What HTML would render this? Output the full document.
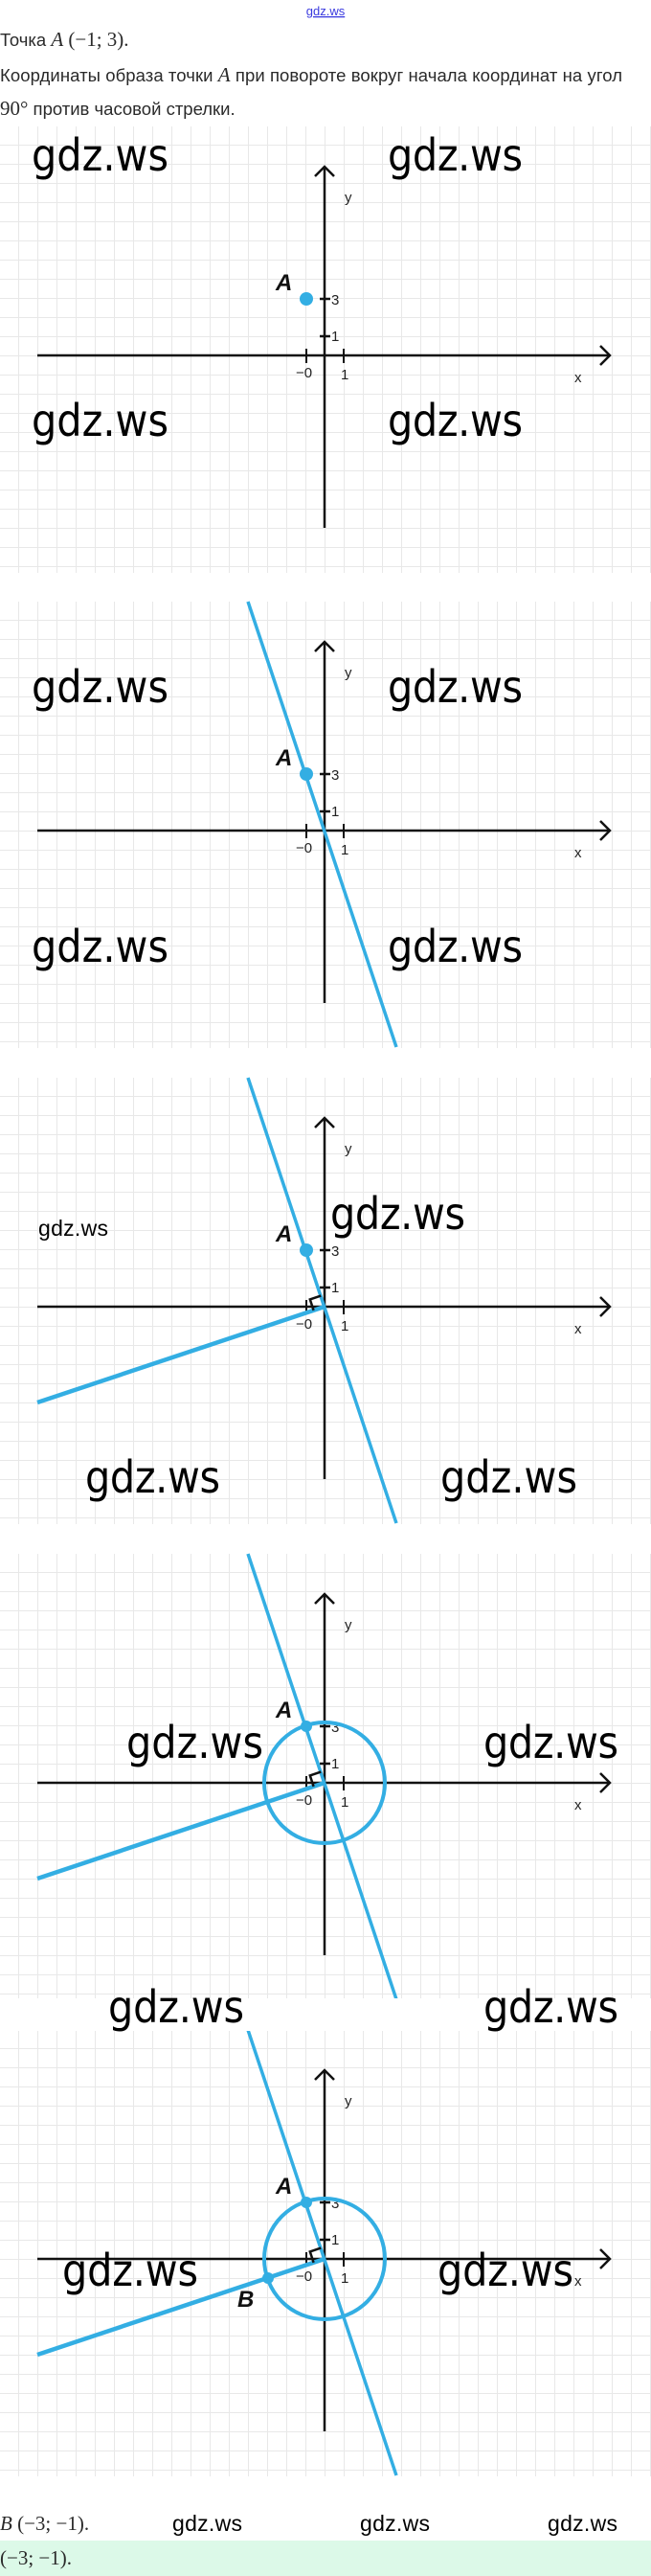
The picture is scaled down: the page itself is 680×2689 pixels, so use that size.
<!DOCTYPE html>
<html><head><meta charset="utf-8">
<style>
html,body{margin:0;padding:0;background:#fff;}
svg{display:block;}
.t{font-family:"Liberation Sans",sans-serif;font-size:18.5px;fill:#2a2a2a;}
.m{font-family:"Liberation Serif",serif;font-size:21px;fill:#2a2a2a;}
.wm{font-family:"DejaVu Sans Condensed","DejaVu Sans",sans-serif;font-size:46px;fill:#000;}
.ws{font-family:"Liberation Sans",sans-serif;font-size:23px;fill:#000;}
.lab{font-family:"Liberation Sans",sans-serif;font-size:15px;fill:#222;}
.pt{font-family:"Liberation Sans",sans-serif;font-size:24px;font-weight:bold;font-style:italic;fill:#111;}
</style></head><body>
<svg width="680" height="2689" viewBox="0 0 680 2689" xmlns="http://www.w3.org/2000/svg">
<defs>
<pattern id="g" x="-1" y="0" width="20" height="20" patternUnits="userSpaceOnUse">
<path d="M0 0.5H20M0.5 0V20" stroke="#e8e8e8" stroke-width="1" fill="none"/>
</pattern>
<g id="axes">
<rect x="0" y="-239" width="680" height="466" fill="url(#g)"/>
<line x1="39" y1="0" x2="637" y2="0" stroke="#111" stroke-width="2.5"/>
<polyline points="627,-10 637,0 627,10" fill="none" stroke="#111" stroke-width="2.5"/>
<line x1="339" y1="-197" x2="339" y2="180" stroke="#111" stroke-width="2.5"/>
<polyline points="329,-187 339,-197 349,-187" fill="none" stroke="#111" stroke-width="2.5"/>
<line x1="334" y1="-59" x2="345" y2="-59" stroke="#111" stroke-width="2.5"/>
<line x1="334" y1="-20" x2="345" y2="-20" stroke="#111" stroke-width="2.5"/>
<line x1="320" y1="-7" x2="320" y2="8" stroke="#111" stroke-width="2"/>
<line x1="359" y1="-7" x2="359" y2="8" stroke="#111" stroke-width="2"/>
<text class="lab" x="346" y="-53">3</text>
<text class="lab" x="346" y="-15">1</text>
<text class="lab" x="309" y="23">−0</text>
<text class="lab" x="356" y="25">1</text>
<text class="lab" x="360" y="-160">y</text>
<text class="lab" x="600" y="28">x</text>
</g>
<g id="lineA">
<line x1="259" y1="-239" x2="414" y2="226" stroke="#33aee3" stroke-width="3.5"/>
<text class="pt" x="288" y="-68">A</text>
</g>
<g id="lineB">
<line x1="339" y1="0" x2="39" y2="100" stroke="#33aee3" stroke-width="4.5"/>
<polyline points="335.2,-11.4 323.8,-7.6 327.6,3.8" fill="none" stroke="#111" stroke-width="2.5"/>
</g>
</defs>

<text x="340" y="16" text-anchor="middle" style="font-family:'Liberation Sans',sans-serif;font-size:13px;fill:#3a3adf;text-decoration:underline">gdz.ws</text>
<text x="0" y="48"><tspan class="t">Точка </tspan><tspan class="m" font-style="italic">A</tspan><tspan class="m"> (−1; 3).</tspan></text>
<text x="0" y="85" textLength="650"><tspan class="t">Координаты образа точки </tspan><tspan class="m" font-style="italic">A</tspan><tspan class="t"> при повороте вокруг начала координат на угол</tspan></text>
<text x="0" y="120"><tspan class="m">90°</tspan><tspan class="t"> против часовой стрелки.</tspan></text>

<!-- Panel 1 -->
<g transform="translate(0,371)">
<use href="#axes"/>
<circle cx="320" cy="-59" r="7" fill="#33aee3"/>
<text class="pt" x="288" y="-68">A</text>
</g>
<text class="wm" x="33" y="178" textLength="143">gdz.ws</text>
<text class="wm" x="405" y="178" textLength="141">gdz.ws</text>
<text class="wm" x="33" y="455" textLength="143">gdz.ws</text>
<text class="wm" x="405" y="455" textLength="141">gdz.ws</text>

<!-- Panel 2 -->
<g transform="translate(0,867)">
<use href="#axes"/>
<use href="#lineA"/>
<circle cx="320" cy="-59" r="7" fill="#33aee3"/>
</g>
<text class="wm" x="33" y="733" textLength="143">gdz.ws</text>
<text class="wm" x="405" y="733" textLength="141">gdz.ws</text>
<text class="wm" x="33" y="1004" textLength="143">gdz.ws</text>
<text class="wm" x="405" y="1004" textLength="141">gdz.ws</text>

<!-- Panel 3 -->
<g transform="translate(0,1364)">
<use href="#axes"/>
<use href="#lineA"/>
<use href="#lineB"/>
<circle cx="320" cy="-59" r="7" fill="#33aee3"/>
</g>
<text class="ws" x="40" y="1290" textLength="73">gdz.ws</text>
<text class="wm" x="345" y="1283" textLength="141">gdz.ws</text>
<text class="wm" x="89" y="1558" textLength="141">gdz.ws</text>
<text class="wm" x="460" y="1558" textLength="143">gdz.ws</text>

<!-- Panel 4 -->
<g transform="translate(0,1861)">
<use href="#axes"/>
<use href="#lineA"/>
<use href="#lineB"/>
<circle cx="339" cy="0" r="63" fill="none" stroke="#33aee3" stroke-width="4"/>
<circle cx="320" cy="-59" r="6" fill="#33aee3"/>
</g>
<text class="wm" x="132" y="1835" textLength="143">gdz.ws</text>
<text class="wm" x="505" y="1835" textLength="141">gdz.ws</text>

<!-- Panel 5 -->
<g transform="translate(0,2358)">
<use href="#axes"/>
<use href="#lineA"/>
<use href="#lineB"/>
<circle cx="339" cy="0" r="63" fill="none" stroke="#33aee3" stroke-width="4"/>
<circle cx="320" cy="-59" r="6" fill="#33aee3"/>
<circle cx="280" cy="20" r="6" fill="#33aee3"/>
<text class="pt" x="248" y="50">B</text>
</g>
<rect x="0" y="2086" width="680" height="34" fill="#fff"/>
<text class="wm" x="113" y="2111" textLength="142">gdz.ws</text>
<text class="wm" x="505" y="2111" textLength="141">gdz.ws</text>
<text class="wm" x="65" y="2386" textLength="142">gdz.ws</text>
<text class="wm" x="457" y="2386" textLength="142">gdz.ws</text>

<!-- bottom -->
<text x="0" y="2641"><tspan class="m" font-style="italic">B</tspan><tspan class="m"> (−3; −1).</tspan></text>
<text class="ws" x="180" y="2642" textLength="73">gdz.ws</text>
<text class="ws" x="376" y="2642" textLength="73">gdz.ws</text>
<text class="ws" x="572" y="2642" textLength="73">gdz.ws</text>
<rect x="0" y="2652" width="680" height="37" fill="#dcf9e8"/>
<text x="0" y="2677" class="m">(−3; −1).</text>
</svg>
</body></html>
